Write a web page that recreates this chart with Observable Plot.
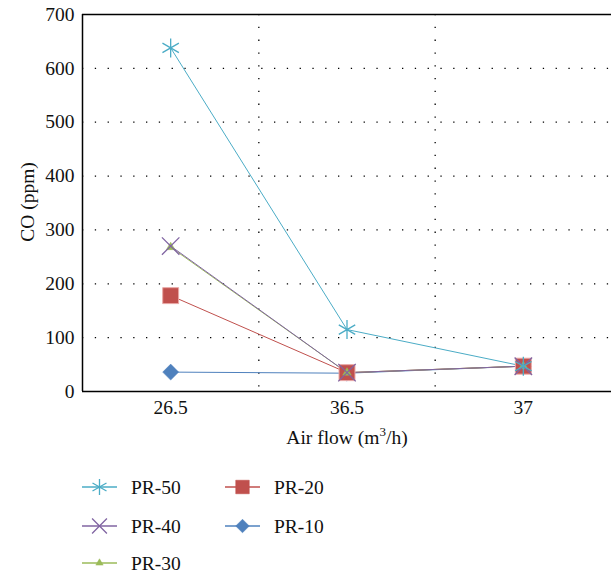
<!DOCTYPE html>
<html>
<head>
<meta charset="utf-8">
<script src="https://cdn.jsdelivr.net/npm/d3@7"></script>
<script src="https://cdn.jsdelivr.net/npm/@observablehq/plot@0.6"></script>
<style>
  body { margin: 0; background: #fff; font-family: "Liberation Serif", "DejaVu Serif", serif; }
  #chart svg { display: block; }
</style>
</head>
<body>
<div id="chart"></div>
<div id="legend"></div>
<script>
const categories = ["26.5", "36.5", "37"];
const seriesNames = ["PR-50", "PR-40", "PR-30", "PR-20", "PR-10"];
const pr50 = [638, 115, 47];
const pr40 = [270, 35, 47];
const pr30 = [268, 35, 47];
const pr20 = [178, 35, 47];
const pr10 = [36, 34, 47];
const yTicks = [0, 100, 200, 300, 400, 500, 600, 700];

const colors = {"PR-50": "#4bacc6", "PR-40": "#8064a2", "PR-30": "#9bbb59", "PR-20": "#c0504d", "PR-10": "#4f81bd"};
const symbols = {"PR-50": "asterisk", "PR-40": "times", "PR-30": "triangle", "PR-20": "square", "PR-10": "diamond2"};
const radii = {"PR-50": 9, "PR-40": 8, "PR-30": 3.2, "PR-20": 9, "PR-10": 7.2};
const values = {"PR-50": pr50, "PR-40": pr40, "PR-30": pr30, "PR-20": pr20, "PR-10": pr10};

const rows = seriesNames.flatMap(s => values[s].map((v, i) => ({series: s, i, cat: categories[i], value: v})));
const drawOrder = [...seriesNames].reverse();
const boundaries = categories.slice(0, -1).map((c, i) => i + 0.5);
const font = "Liberation Serif";
const fs = 19.5;

const marks = [
  Plot.ruleY(yTicks.filter(v => v > 0 && v < 700), {stroke: "#000", strokeWidth: 1.3, strokeDasharray: "1.3,11.5"}),
  Plot.ruleX(boundaries, {stroke: "#000", strokeWidth: 1.3, strokeDasharray: "1.3,11.5"}),
];
for (const s of drawOrder) {
  marks.push(Plot.line(rows.filter(d => d.series === s), {x: "i", y: "value", stroke: colors[s], strokeWidth: 1}));
}
for (const s of drawOrder) {
  const isStroke = ["asterisk", "times"].includes(symbols[s]);
  marks.push(Plot.dot(rows.filter(d => d.series === s), {
    x: "i", y: "value", symbol: () => symbols[s], r: radii[s],
    fill: isStroke ? "none" : colors[s],
    stroke: s === "PR-20" ? "#e9a9a7" : colors[s],
    strokeWidth: isStroke ? 1.3 : (s === "PR-20" ? 1 : 0.5)
  }));
}
marks.push(
  Plot.ruleX([-0.5], {stroke: "#000", strokeWidth: 1.5}),
  Plot.ruleY([0], {stroke: "#000", strokeWidth: 1.5}),
  Plot.ruleY([700], {stroke: "#000", strokeWidth: 1.5}),
  Plot.axisY({ticks: yTicks, tickSize: 0, tickPadding: 8, label: null, fontSize: fs, fontFamily: font, fill: "#111"}),
  Plot.axisX({ticks: categories.map((c, i) => i), tickFormat: i => categories[i], tickSize: 0, tickPadding: 9, label: null, fontSize: fs, fontFamily: font, fill: "#111"})
);

const chart = Plot.plot({
  width: 611,
  height: 458,
  marginLeft: 82,
  marginRight: 0,
  marginTop: 14,
  marginBottom: 67,
  style: {fontFamily: font, background: "#fff", overflow: "visible"},
  x: {type: "linear", domain: [-0.5, categories.length - 0.5]},
  y: {domain: [0, 700]},
  symbol: {type: "identity"},
  marks
});
document.getElementById("chart").append(chart);

const svg = d3.select(chart);
svg.append("text")
  .attr("x", 347).attr("y", 444)
  .attr("text-anchor", "middle")
  .attr("font-family", font).attr("font-size", fs).attr("fill", "#111")
  .call(t => {
    t.append("tspan").text("Air flow (m");
    t.append("tspan").attr("dy", -8).attr("font-size", 13).text("3");
    t.append("tspan").attr("dy", 8).text("/h)");
  });
svg.append("text")
  .attr("transform", "translate(34,202) rotate(-90)")
  .attr("text-anchor", "middle")
  .attr("font-family", font).attr("font-size", fs).attr("fill", "#111")
  .text("CO (ppm)");

// Legend
const legendOrder = [["PR-50", "PR-20"], ["PR-40", "PR-10"], ["PR-30", null]];
const lw = 611, lh = 115;
const lsvg = d3.select("#legend").append("svg").attr("width", lw).attr("height", lh).style("display", "block");
const colX = [82, 225];
const rowY = [29, 68, 105];
legendOrder.forEach((row, ri) => {
  row.forEach((s, ci) => {
    if (!s) return;
    const g = lsvg.append("g").attr("transform", `translate(${colX[ci]},${rowY[ri]})`);
    g.append("line").attr("x1", 0).attr("x2", 35).attr("y1", 0).attr("y2", 0)
      .attr("stroke", colors[s]).attr("stroke-width", 2).attr("stroke-opacity", 0.75);
    const sym = {asterisk: d3.symbolAsterisk, times: d3.symbolTimes, triangle: d3.symbolTriangle, square: d3.symbolSquare, diamond2: d3.symbolDiamond2}[symbols[s]];
    const isStroke = ["asterisk", "times"].includes(symbols[s]);
    const r = radii[s] * 0.85;
    g.append("path").attr("transform", "translate(17.5,0)")
      .attr("d", d3.symbol(sym, Math.PI * r * r)())
      .attr("fill", isStroke ? "none" : colors[s])
      .attr("stroke", colors[s]).attr("stroke-width", isStroke ? 1.3 : 0.5);
    g.append("text").attr("x", 49).attr("y", 0).attr("dy", "0.35em")
      .attr("font-family", font).attr("font-size", fs).attr("fill", "#111").text(s);
  });
});
</script>
</body>
</html>
